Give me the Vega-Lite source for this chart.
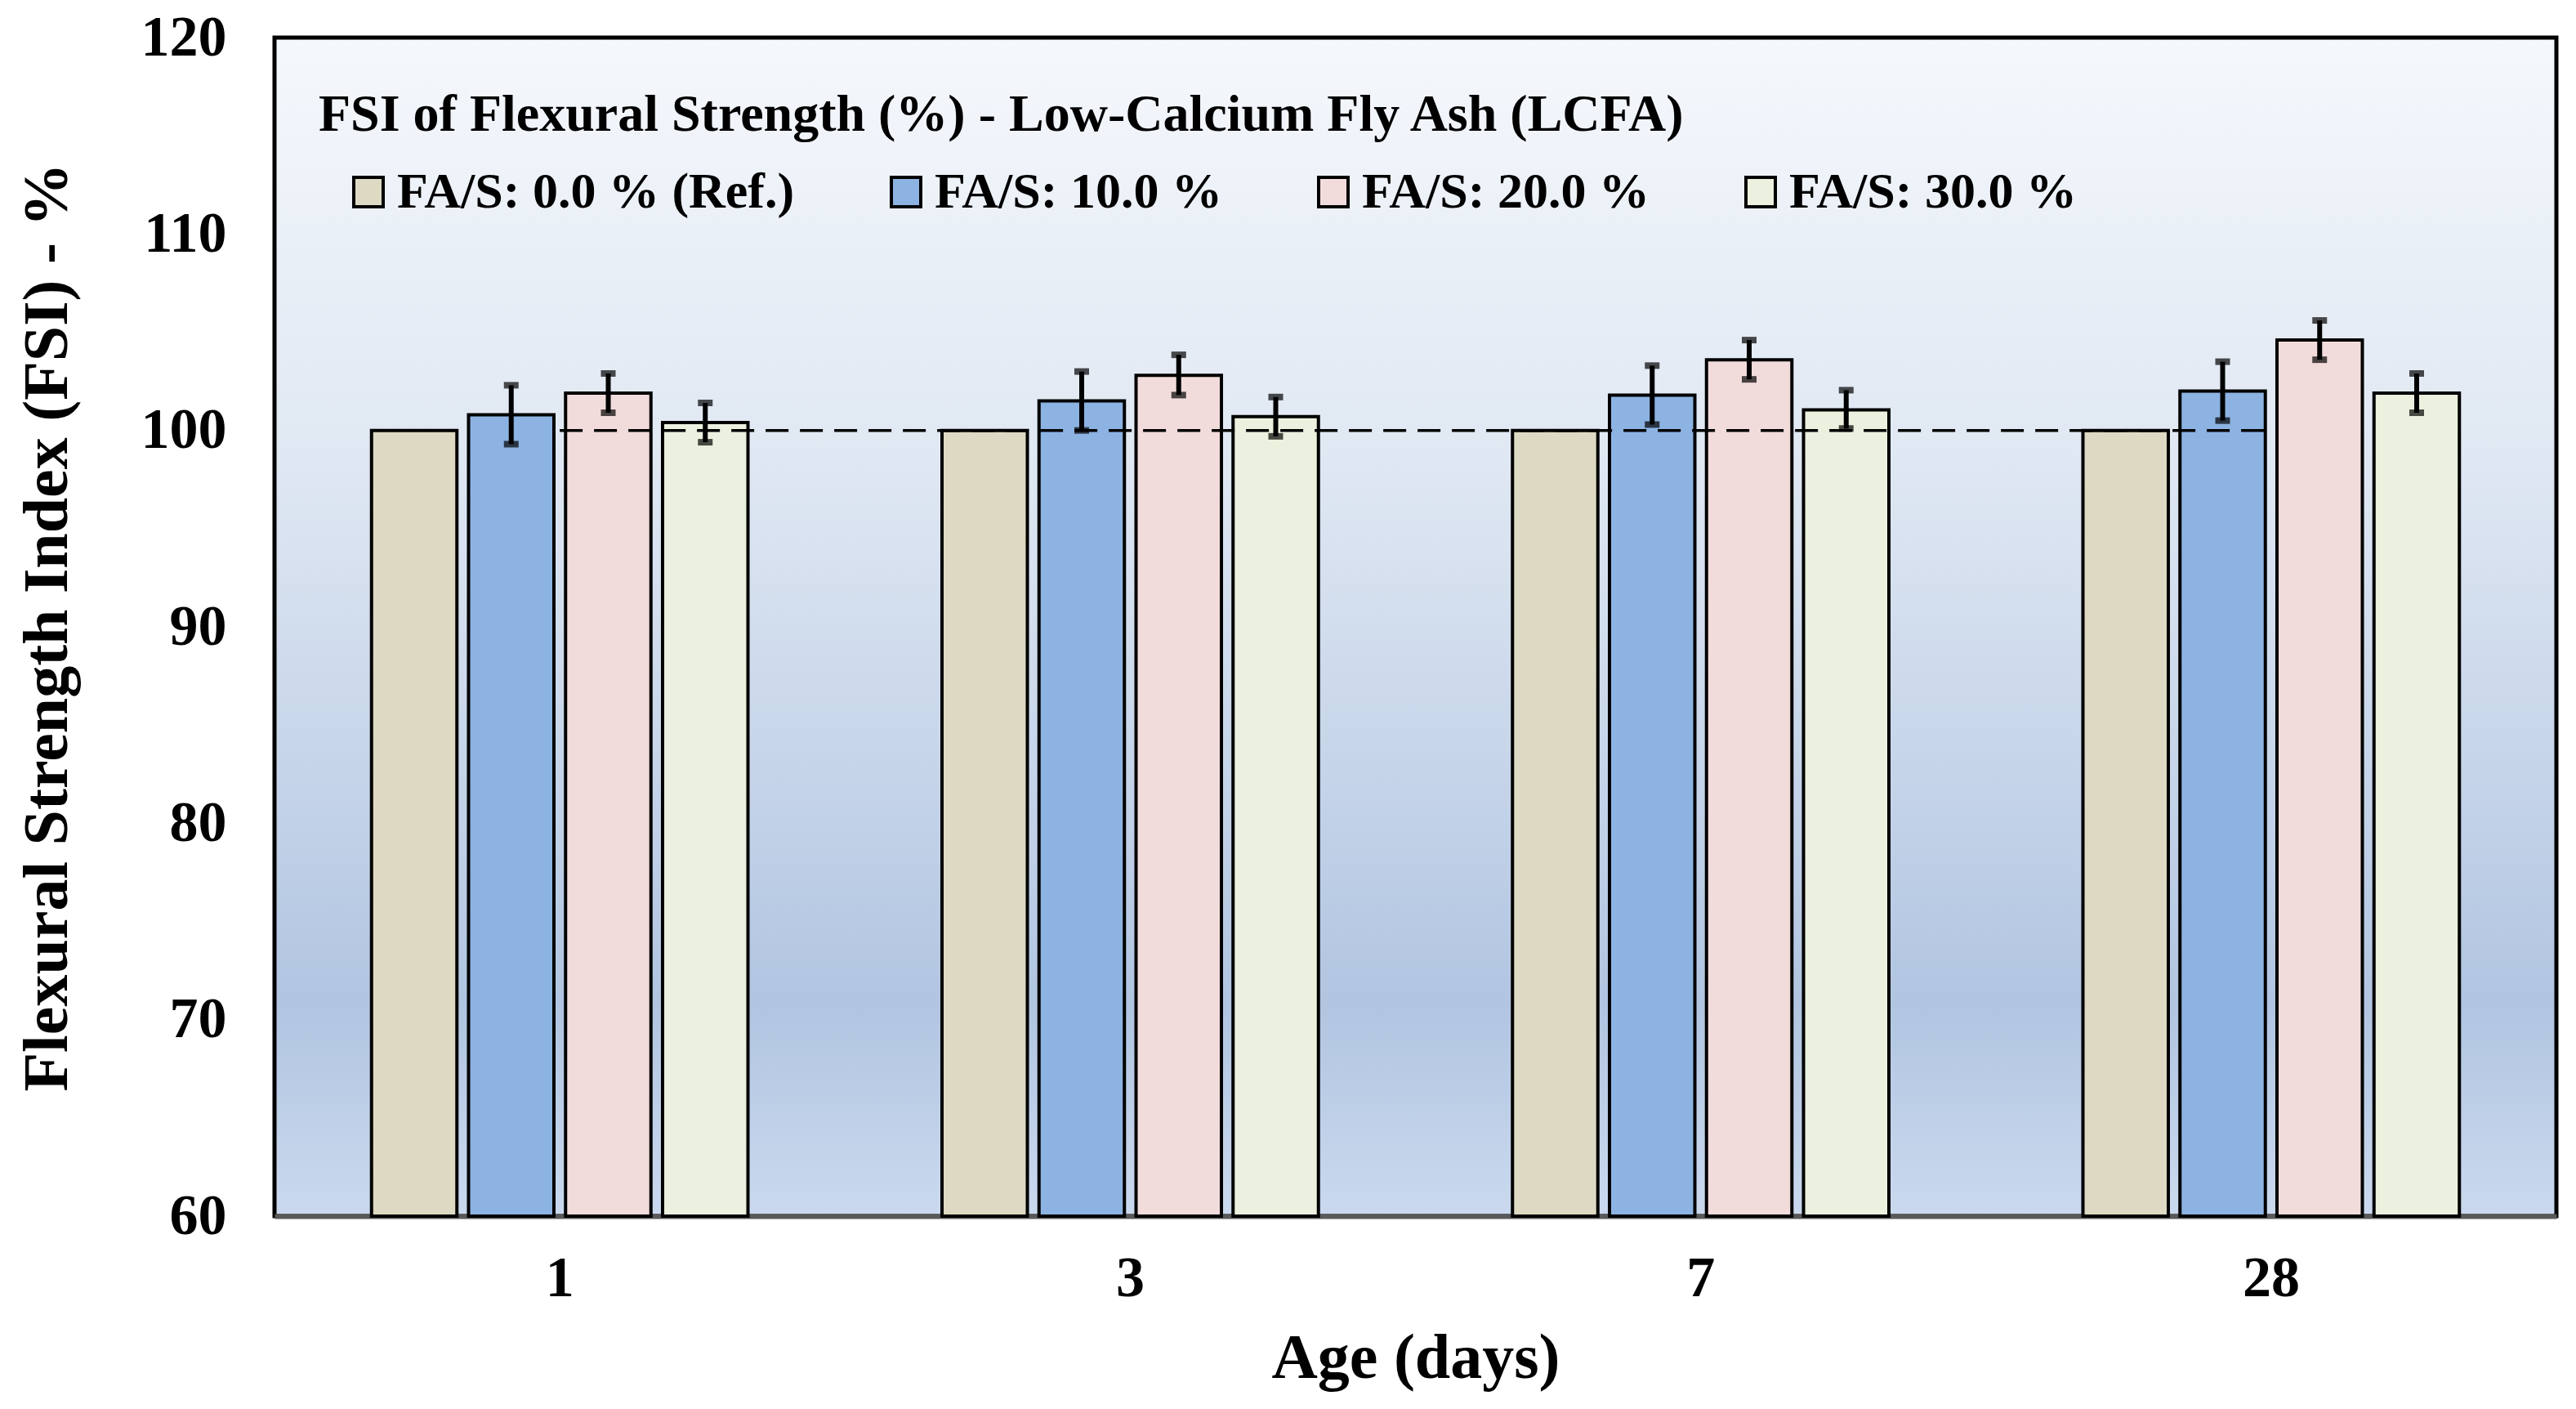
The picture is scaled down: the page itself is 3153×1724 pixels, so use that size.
{
  "$schema": "https://vega.github.io/schema/vega-lite/v6.json",
  "width": 2793,
  "height": 1442,
  "autosize": {"type": "none"},
  "padding": {"left": 336, "top": 46, "right": 24, "bottom": 236},
  "background": "white",
  "title": {
    "text": "FSI of Flexural Strength  (%) - Low-Calcium Fly Ash (LCFA)",
    "anchor": "start",
    "frame": "group",
    "dx": 54,
    "offset": -162,
    "font": "Liberation Serif",
    "fontSize": 64,
    "fontWeight": "bold",
    "color": "black"
  },
  "view": {
    "stroke": "black",
    "strokeWidth": 5,
    "fill": {
      "gradient": "linear",
      "x1": 0, "y1": 0, "x2": 0, "y2": 1,
      "stops": [
        {"offset": 0, "color": "#f5f8fc"},
        {"offset": 0.35, "color": "#e0e8f3"},
        {"offset": 0.6, "color": "#c8d6ea"},
        {"offset": 0.82, "color": "#b1c5e1"},
        {"offset": 1, "color": "#cad9ee"}
      ]
    }
  },
  "config": {
    "font": "Liberation Serif",
    "axis": {
      "labelFont": "Liberation Serif",
      "labelFontWeight": "bold",
      "labelColor": "black",
      "titleFont": "Liberation Serif",
      "titleFontWeight": "bold",
      "titleColor": "black",
      "grid": false,
      "ticks": false
    }
  },
  "data": {
    "values": [
      {"age": "1", "group": "FA/S: 0.0 % (Ref.)", "fsi": 100.0, "lo": null, "hi": null},
      {"age": "1", "group": "FA/S: 10.0 %", "fsi": 100.8, "lo": 99.3, "hi": 102.3},
      {"age": "1", "group": "FA/S: 20.0 %", "fsi": 101.9, "lo": 100.9, "hi": 102.9},
      {"age": "1", "group": "FA/S: 30.0 %", "fsi": 100.4, "lo": 99.4, "hi": 101.4},
      {"age": "3", "group": "FA/S: 0.0 % (Ref.)", "fsi": 100.0, "lo": null, "hi": null},
      {"age": "3", "group": "FA/S: 10.0 %", "fsi": 101.5, "lo": 100.0, "hi": 103.0},
      {"age": "3", "group": "FA/S: 20.0 %", "fsi": 102.8, "lo": 101.8, "hi": 103.85},
      {"age": "3", "group": "FA/S: 30.0 %", "fsi": 100.7, "lo": 99.7, "hi": 101.7},
      {"age": "7", "group": "FA/S: 0.0 % (Ref.)", "fsi": 100.0, "lo": null, "hi": null},
      {"age": "7", "group": "FA/S: 10.0 %", "fsi": 101.8, "lo": 100.3, "hi": 103.3},
      {"age": "7", "group": "FA/S: 20.0 %", "fsi": 103.6, "lo": 102.6, "hi": 104.6},
      {"age": "7", "group": "FA/S: 30.0 %", "fsi": 101.05, "lo": 100.1, "hi": 102.05},
      {"age": "28", "group": "FA/S: 0.0 % (Ref.)", "fsi": 100.0, "lo": null, "hi": null},
      {"age": "28", "group": "FA/S: 10.0 %", "fsi": 102.0, "lo": 100.5, "hi": 103.5},
      {"age": "28", "group": "FA/S: 20.0 %", "fsi": 104.6, "lo": 103.6, "hi": 105.6},
      {"age": "28", "group": "FA/S: 30.0 %", "fsi": 101.9, "lo": 100.9, "hi": 102.9}
    ]
  },
  "encoding": {
    "x": {
      "field": "age",
      "type": "nominal",
      "sort": ["1", "3", "7", "28"],
      "scale": {"paddingInner": 0, "paddingOuter": 0},
      "axis": {
        "title": "Age (days)",
        "labelAngle": 0,
        "labelFontSize": 70,
        "labelPadding": 42,
        "titleFontSize": 78,
        "titlePadding": 24,
        "domainColor": "#595959",
        "domainWidth": 6
      }
    }
  },
  "layer": [
    {
      "mark": {"type": "bar", "stroke": "black", "strokeWidth": 4},
      "encoding": {
        "xOffset": {
          "field": "group",
          "type": "nominal",
          "scale": {
            "domain": ["FA/S: 0.0 % (Ref.)", "FA/S: 10.0 %", "FA/S: 20.0 %", "FA/S: 30.0 %"],
            "paddingInner": 0.12,
            "paddingOuter": 1.0
          }
        },
        "y": {
          "field": "fsi",
          "type": "quantitative",
          "scale": {"domain": [60, 120], "nice": false, "zero": false},
          "axis": {
            "title": "Flexural Strength Index (FSI) - %",
            "values": [60, 70, 80, 90, 100, 110, 120],
            "domain": false,
            "labelFontSize": 70,
            "labelPadding": 59,
            "titleFontSize": 78,
            "titlePadding": 75
          }
        },
        "y2": {"datum": 60},
        "fill": {
          "field": "group",
          "type": "nominal",
          "scale": {
            "domain": ["FA/S: 0.0 % (Ref.)", "FA/S: 10.0 %", "FA/S: 20.0 %", "FA/S: 30.0 %"],
            "range": ["#ddd9c3", "#8db3e2", "#f2dcdb", "#ebf1de"]
          },
          "legend": {
            "title": null,
            "orient": "none",
            "direction": "horizontal",
            "legendX": 84,
            "legendY": 158,
            "symbolType": "square",
            "symbolSize": 1296,
            "symbolStrokeColor": "black",
            "symbolStrokeWidth": 4,
            "labelFont": "Liberation Serif",
            "labelFontSize": 62,
            "labelFontWeight": "bold",
            "labelColor": "black",
            "labelLimit": 0,
            "labelOffset": 4,
            "columnPadding": 105
          }
        }
      }
    },
    {
      "transform": [{"filter": "datum.lo == null"}],
      "mark": {"type": "line", "color": "black", "strokeWidth": 3.5, "strokeDash": [28, 14]},
      "encoding": {
        "y": {"field": "fsi", "type": "quantitative"}
      }
    },
    {
      "transform": [{"filter": "datum.lo != null"}],
      "mark": {"type": "rule", "color": "black", "strokeWidth": 6},
      "encoding": {
        "xOffset": {"field": "group", "type": "nominal"},
        "y": {"field": "lo", "type": "quantitative"},
        "y2": {"field": "hi"}
      }
    },
    {
      "transform": [{"filter": "datum.lo != null"}],
      "mark": {"type": "tick", "color": "black", "size": 18, "thickness": 8},
      "encoding": {
        "xOffset": {"field": "group", "type": "nominal"},
        "y": {"field": "lo", "type": "quantitative"}
      }
    },
    {
      "transform": [{"filter": "datum.lo != null"}],
      "mark": {"type": "tick", "color": "black", "size": 18, "thickness": 8},
      "encoding": {
        "xOffset": {"field": "group", "type": "nominal"},
        "y": {"field": "hi", "type": "quantitative"}
      }
    }
  ]
}
